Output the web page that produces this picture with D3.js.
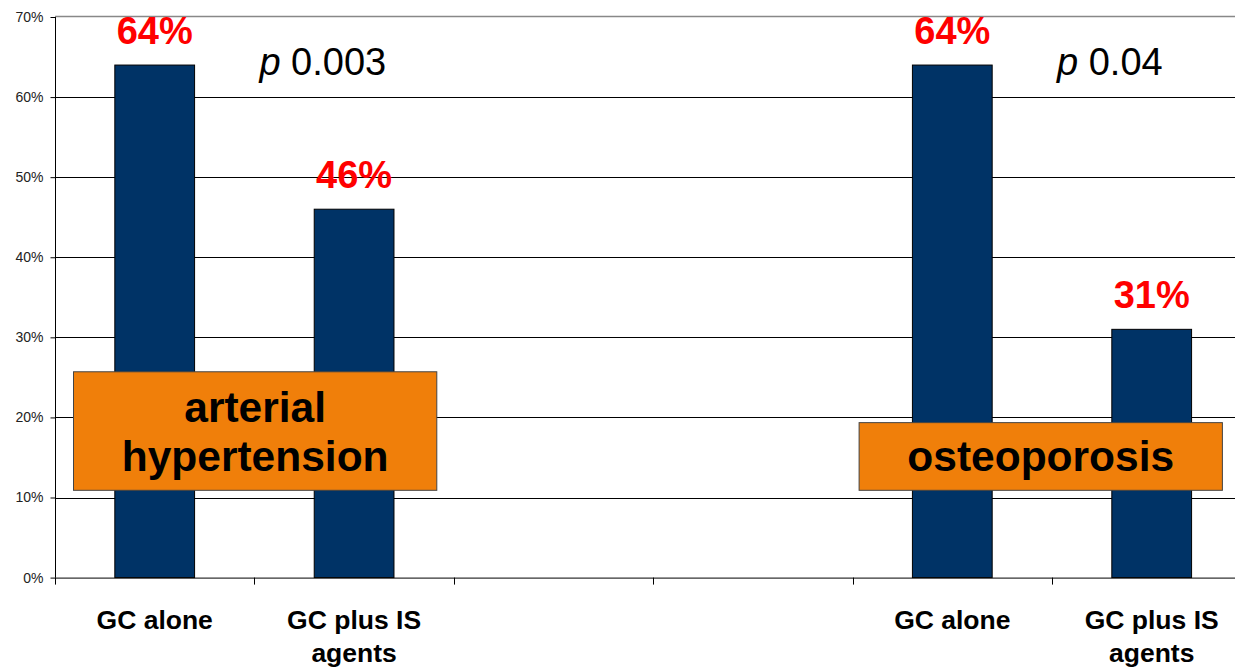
<!DOCTYPE html>
<html>
<head>
<meta charset="utf-8">
<script src="https://cdnjs.cloudflare.com/ajax/libs/d3/7.8.5/d3.min.js"></script>
<style>
  html, body { margin: 0; padding: 0; background: #fff; }
  svg { display: block; font-family: "Liberation Sans", Arial, sans-serif; }
</style>
</head>
<body>
<svg class="chart" width="1235" height="671"></svg>
<script>
// categories (two empty slots separate the groups)
const categories = ["GC alone", "GC plus IS\nagents", "", "", "GC alone", "GC plus IS\nagents"];
const values = [64, 46, null, null, 64, 31];
const valueLabels = ["64%", "46%", null, null, "64%", "31%"];
const yTicks = [0, 10, 20, 30, 40, 50, 60, 70];
const groupNames = [["arterial", "hypertension"], ["osteoporosis"]];
const pValues = ["0.003", "0.04"];

function createChart() {
  const svg = d3.select(".chart");
  const w = +svg.attr("width");

  const x = d3
    .scaleBand()
    .domain(d3.range(categories.length))
    .range([55, 1251.4])
    .padding(0);
  const bw = x.bandwidth();

  const y = d3.scaleLinear().domain([0, 70]).range([577.6, 17]);

  // gridlines
  svg
    .append("g")
    .selectAll("line")
    .data(yTicks.filter((t) => t > 0 && t < 70))
    .enter()
    .append("line")
    .attr("x1", 55)
    .attr("x2", w)
    .attr("y1", (d) => Math.round(y(d)) + 0.5)
    .attr("y2", (d) => Math.round(y(d)) + 0.5)
    .attr("stroke", "#000")
    .attr("stroke-width", 1);

  // plot border (top)
  svg
    .append("line")
    .attr("x1", 55)
    .attr("x2", w)
    .attr("y1", Math.round(y(70)) - 0.5)
    .attr("y2", Math.round(y(70)) - 0.5)
    .attr("stroke", "#888")
    .attr("stroke-width", 1.5);

  // bars
  const barData = values
    .map((v, i) => ({ v, i, label: valueLabels[i] }))
    .filter((d) => d.v != null);

  svg
    .append("g")
    .selectAll("rect")
    .data(barData)
    .enter()
    .append("rect")
    .attr("x", (d) => x(d.i) + bw * 0.3)
    .attr("width", bw * 0.4)
    .attr("y", (d) => y(d.v))
    .attr("height", (d) => y(0) - y(d.v))
    .attr("fill", "#003366")
    .attr("stroke", "#000")
    .attr("stroke-width", 1);

  svg
    .append("g")
    .selectAll("text")
    .data(barData)
    .enter()
    .append("text")
    .text((d) => d.label)
    .attr("x", (d) => x(d.i) + bw / 2)
    .attr("y", (d) => y(d.v) - 21)
    .attr("text-anchor", "middle")
    .attr("fill", "#ff0000")
    .attr("font-weight", "bold")
    .attr("font-size", 38);

  // y axis
  const yAxis = d3
    .axisLeft(y)
    .tickValues(yTicks)
    .tickSize(5)
    .tickPadding(7)
    .tickFormat((d) => d + "%");
  const yg = svg.append("g").attr("transform", "translate(55.5, 0)").call(yAxis);
  yg.select(".domain").attr("stroke", "#000").attr("d", `M0,${y(70)}V${y(0)}`);
  yg.selectAll("line").attr("stroke", "#000");
  yg.selectAll("text")
    .attr("font-size", 14)
    .attr("font-family", '"Liberation Sans", Arial, sans-serif')
    .attr("fill", "#222");

  // x axis
  const xg = svg.append("g").attr("transform", `translate(0, ${y(0)})`);
  xg.append("line")
    .attr("x1", 55)
    .attr("x2", w)
    .attr("y1", 0.5)
    .attr("y2", 0.5)
    .attr("stroke", "#000");
  xg.selectAll(".tick")
    .data(d3.range(categories.length + 1))
    .enter()
    .append("line")
    .attr("x1", (d) => Math.round(55 + d * bw) + 0.5)
    .attr("x2", (d) => Math.round(55 + d * bw) + 0.5)
    .attr("y1", 0)
    .attr("y2", 7)
    .attr("stroke", "#000");

  const catLabels = xg
    .selectAll(".cat")
    .data(categories)
    .enter()
    .append("text")
    .attr("class", "cat")
    .attr("text-anchor", "middle")
    .attr("font-weight", "bold")
    .attr("font-size", 26.5)
    .attr("fill", "#000");
  catLabels
    .selectAll("tspan")
    .data((d, i) => d.split("\n").map((t) => ({ t, i })))
    .enter()
    .append("tspan")
    .attr("x", (d) => x(d.i) + bw / 2)
    .attr("y", (d, j) => 51.5 + j * 33)
    .text((d) => d.t);

  // p values
  const pIdx = [1, 5];
  pValues.forEach((p, k) => {
    const t = svg
      .append("text")
      .attr("x", x(pIdx[k]) + 5)
      .attr("y", y(62.7))
      .attr("font-size", 38)
      .attr("fill", "#000");
    t.append("tspan").attr("font-style", "italic").text("p");
    t.append("tspan").text(" " + p);
  });

  // group boxes
  const boxes = [
    { x0: x(0) + 18.5, x1: x(2) - 17, top: 25.7, names: groupNames[0] },
    { x0: x(4) + 6.5, x1: x(5) + bw - 29, top: 19.35, names: groupNames[1] },
  ];
  boxes.forEach((b) => {
    svg
      .append("rect")
      .attr("x", b.x0)
      .attr("y", y(b.top))
      .attr("width", b.x1 - b.x0)
      .attr("height", y(10.9) - y(b.top))
      .attr("fill", "#f07f0a")
      .attr("stroke", "#444")
      .attr("stroke-width", 1);
    const cx = (b.x0 + b.x1) / 2;
    const lines = b.names;
    const bottom = y(10.9) - 19;
    lines.forEach((name, j) => {
      svg
        .append("text")
        .attr("x", cx)
        .attr("y", bottom - (lines.length - 1 - j) * 49)
        .attr("text-anchor", "middle")
        .attr("font-weight", "bold")
        .attr("font-size", 42.5)
        .attr("fill", "#000")
        .text(name);
    });
  });
}

createChart();
</script>
</body>
</html>
